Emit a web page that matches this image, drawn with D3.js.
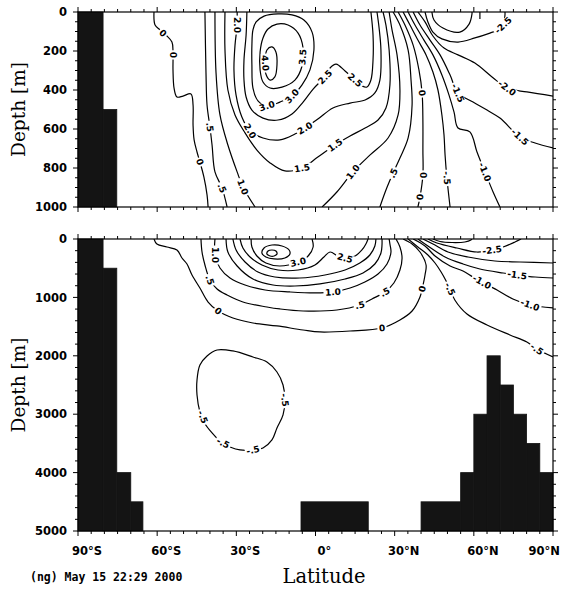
<!DOCTYPE html>
<html>
<head>
<meta charset="utf-8">
<script src="https://cdn.jsdelivr.net/npm/d3@7"></script>
<style>
  body { margin: 0; background: #fff; }
  svg { display: block; }
</style>
</head>
<body>
<div id="chart"></div>
<script>
// axis ticks
const latTicks = [-90, -60, -30, 0, 30, 60, 90];
const latTickLabels = ["90°S", "60°S", "30°S", "0°", "30°N", "60°N", "90°N"];
const topDepthTicks = [0, 200, 400, 600, 800, 1000];
const bottomDepthTicks = [0, 1000, 2000, 3000, 4000, 5000];

// land / sea floor: [lat from, lat to, depth of the top of the block]
const landCells = [
    [-90, -80.5, 0], [-80.5, -75.3, 500], [-75.3, -70, 4000], [-70, -65.4, 4500],
    [-5.5, 20, 4500],
    [40, 55, 4500], [55, 60, 4000], [60, 65, 3000], [65, 70, 2000],
    [70, 75, 2500], [75, 80, 3000], [80, 85, 3500], [85, 90, 4000]
];

// contour lines of the upper 1000 m, points are [lat, depth]
const topContours = [
    { value: "0", points: [[-61.2,0],[-60.8,67],[-58.9,92],[-56.7,118],[-54.4,154],[-54,205],[-54,297],[-53.6,390],[-52.5,436],[-50.2,431],[-47.2,420],[-46.4,477],[-46.4,580],[-46,656],[-44.9,718],[-43.8,769],[-42.3,846],[-41.1,938],[-40.7,1000]],
      labels: [[-57.8,108],[-54,220],[-43.8,769]] },
    { value: ".5", points: [[-41.9,0],[-41.5,310],[-41.1,477],[-40,590],[-39.2,682],[-38.1,820],[-35.4,903],[-33.5,1000]],
      labels: [[-40,590],[-35.4,903]] },
    { value: "1.0", points: [[-38.1,0],[-37.7,310],[-36.2,528],[-33.2,682],[-29.7,820],[-27.5,897],[-22.9,1000]],
      labels: [[-27.5,897]] },
    { value: "1.5", points: [[-34.3,0],[-34.3,195],[-33.2,400],[-30.5,528],[-26.7,620],[-22.2,708],[-17.2,774],[-11.6,815],[-5.1,800],[0.9,744],[7.4,682],[13.1,636],[18.8,595],[23.7,554],[26.7,492],[28.2,374],[27.9,195],[26.7,67],[25.6,0]],
      labels: [[-5.1,800],[7.4,682]] },
    { value: "2.0", points: [[-29.7,0],[-29.7,67],[-30.5,170],[-30.9,297],[-30.1,426],[-27.9,538],[-24.8,610],[-19.9,646],[-13.5,656],[-7.8,626],[-4,595],[0.9,549],[6.6,492],[13.1,467],[18.8,451],[22.5,415],[24.4,349],[24.8,195],[24.1,82],[23.3,0]],
      labels: [[-29.7,67],[-24.8,610],[-4,595]] },
    { value: "2.5", points: [[-26,0],[-26.3,118],[-27.1,246],[-27.1,349],[-26.3,436],[-24.1,503],[-19.9,544],[-14.2,554],[-8.9,523],[-4.7,462],[-0.9,395],[1.7,359],[3.6,333],[5.5,287],[7.8,267],[11.2,303],[15,349],[17.6,379],[19.5,385],[21,349],[21.8,246],[21.8,118],[21,0]],
      labels: [[3.6,333],[15,349]] },
    { value: "3.0", closed: true, points: [[-22.5,51],[-19.5,21],[-14.2,10],[-8.9,15],[-4.4,41],[-1.3,103],[-0.6,195],[-2.1,297],[-5.1,374],[-8.9,431],[-13.5,462],[-18.4,482],[-21.8,456],[-23.7,390],[-24.1,272],[-24.1,169],[-23.7,92]],
      labels: [[-18.4,482],[-8.9,431]] },
    { value: "3.5", closed: true, points: [[-19.9,133],[-18,87],[-14.6,62],[-10.4,67],[-6.6,108],[-4.7,185],[-5.1,277],[-7.8,349],[-12.7,385],[-17.2,390],[-19.9,359],[-21,297],[-21,205]],
      labels: [[-4.9,231]] },
    { value: "4.0", closed: true, points: [[-18.4,195],[-16.5,179],[-15,205],[-14.6,272],[-15.4,333],[-17.2,349],[-18.8,318],[-19.1,256]],
      labels: [[-19,262]] },
    { value: "1.0", points: [[2.5,1000],[8.1,923],[14.2,820],[20.7,733],[27.5,646],[31.3,528],[32,400],[30.9,220],[29,92],[27.9,0]],
      labels: [[14.2,820]] },
    { value: ".5", points: [[29.4,0],[32,67],[35.1,195],[36.2,349],[36.6,477],[35.1,646],[32,749],[29.4,826],[26.7,913],[24.4,1000]],
      labels: [[29.4,826]] },
    { value: "0", points: [[31.3,0],[33.9,67],[37,170],[39.2,297],[40.4,415],[40.7,564],[40.7,708],[40.7,836],[39.6,949],[38.8,1000]],
      labels: [[40.4,415],[40.7,836],[39.6,949]] },
    { value: "-.5", points: [[33.2,0],[35.8,67],[38.8,144],[41.9,220],[44.5,308],[46.4,400],[47.9,528],[48.7,631],[49.1,733],[49.8,851],[51,1000]],
      labels: [[49.8,851]] },
    { value: "-1.0", points: [[35.1,0],[37.7,67],[41.1,144],[44.5,220],[47.9,323],[50.6,426],[52.5,513],[54,595],[58.5,615],[61.2,718],[64.2,820],[67.3,923],[69.9,1000]],
      labels: [[64.2,820]] },
    { value: "-1.5", points: [[37,0],[39.6,67],[43.4,144],[47.2,220],[51,323],[54,415],[59.7,462],[65,503],[69.9,544],[77.5,641],[83.2,672],[90,697]],
      labels: [[54,415],[77.5,641]] },
    { value: "-2.0", points: [[38.8,0],[41.5,51],[44.5,123],[48.7,185],[54,220],[60.4,262],[66.9,333],[72.6,390],[80.1,410],[90,431]],
      labels: [[72.6,390]] },
    { value: "-2.5", points: [[41.5,0],[42.6,51],[44.5,103],[47.9,138],[54,154],[60.4,133],[66.1,108],[69.2,92],[71.1,67],[71.8,15],[71.8,0]],
      labels: [[71.1,67]] },
    { value: "-3.0", points: [[44.1,0],[44.9,41],[48.3,82],[54.7,103],[58.2,62],[59.3,10],[59.3,0]] },
    { value: "-3.0", points: [[62.3,0],[62.3,36]] }
];

// contour lines of the full depth section
const bottomContours = [
    { value: "0", points: [[-61.2,0],[-60.1,86],[-56.3,137],[-52.5,188],[-50.6,325],[-48.7,428],[-46.8,616],[-43.8,839],[-40.7,1079],[-36.9,1233],[-31.3,1352],[-23.7,1438],[-14.6,1489],[-4.7,1558],[1.7,1592],[13.1,1575],[25.2,1524],[32,1387],[36.6,1233],[39.6,993],[40.4,856],[41.5,616],[41.9,445],[39.6,223],[36.6,86],[33.2,0]],
      labels: [[-36.9,1233],[25.2,1524],[40.4,856]] },
    { value: ".5", points: [[-43.4,0],[-43,223],[-41.9,445],[-40,702],[-37.3,856],[-33.5,959],[-27.5,1079],[-18.4,1164],[-13.5,1198],[-4.7,1233],[8.1,1216],[16.8,1130],[21.4,1027],[26.3,907],[29.7,753],[32,531],[32.8,325],[32,137],[30.5,0]],
      labels: [[-40,702],[16.8,1130],[26.3,907]] },
    { value: "1.0", points: [[-38.1,0],[-38.1,274],[-36.2,496],[-32.4,668],[-26.7,788],[-19.1,873],[-9.7,907],[-0.2,924],[6.6,907],[13.1,839],[18.7,736],[23.7,599],[27.1,428],[28.6,223],[28.2,86],[27.9,0]],
      labels: [[-38.1,274],[6.6,907]] },
    { value: "1.5", points: [[-33.9,0],[-33.2,223],[-29.7,462],[-23.7,685],[-16.1,788],[-7.8,805],[1.7,770],[11.2,685],[18,582],[22.5,428],[24.8,240],[25.2,103],[25.2,0]] },
    { value: "2.0", points: [[-31.3,0],[-30.1,188],[-26.7,394],[-21.8,565],[-15.4,651],[-5.9,668],[3.6,616],[11.2,531],[16.8,411],[20.6,274],[22.5,120],[22.9,0]] },
    { value: "2.5", points: [[-28.6,0],[-27.5,154],[-24.8,308],[-20.3,445],[-14.2,531],[-6.6,531],[-0.2,445],[3.2,308],[5.5,223],[8.5,291],[11.2,325],[15,291],[17.6,188],[19.1,86],[19.9,0]],
      labels: [[11.2,325]] },
    { value: "3.0", points: [[-24.4,0],[-24.1,137],[-22.2,291],[-18.8,411],[-13.5,462],[-6.6,394],[-2.8,291],[-0.9,137],[-1.3,0]],
      labels: [[-6.6,394]] },
    { value: "3.5", closed: true, points: [[-19.5,154],[-16.5,103],[-12.7,120],[-10,188],[-9.7,257],[-11.6,325],[-15.7,342],[-18.8,308],[-20.3,240]] },
    { value: "4.0", closed: true, points: [[-18,205],[-16.5,188],[-15,205],[-14.6,257],[-15.7,291],[-17.2,291],[-18.4,257]] },
    { value: "-.5", closed: true, points: [[-43.8,2157],[-41.1,2003],[-37.3,1900],[-31.3,1917],[-23.7,2020],[-18.4,2106],[-14.6,2277],[-12.3,2500],[-11.6,2756],[-12.3,3013],[-14.6,3236],[-16.5,3441],[-19.9,3578],[-23.7,3612],[-28.6,3612],[-32.4,3561],[-35.4,3492],[-39.2,3321],[-42.3,3133],[-43.8,2962],[-44.9,2671],[-44.9,2414]],
      labels: [[-42.7,3047],[-35,3492],[-23.7,3612],[-11.6,2756]] },
    { value: "-.5", points: [[35.1,0],[38.8,137],[42.6,274],[45.3,411],[47.6,565],[49.5,719],[51,856],[52.8,1044],[57.4,1284],[65,1472],[73.7,1643],[80.1,1763],[83.9,1883],[90,2020]],
      labels: [[51,856],[83.9,1883]] },
    { value: "-1.0", points: [[37,0],[41.5,120],[45.3,291],[51,462],[55.9,548],[59.7,651],[63.1,736],[68.8,873],[74.8,1027],[81.3,1130],[90,1181]],
      labels: [[63.1,736],[81.3,1130]] },
    { value: "-1.5", points: [[38.8,0],[42.6,120],[49.1,308],[55.9,428],[62.3,514],[71.1,582],[76.4,616],[83.2,651],[90,668]],
      labels: [[76.4,616]] },
    { value: "-2.0", points: [[40.7,0],[44.5,86],[50.2,223],[57.8,308],[68,377],[77.5,394],[90,411]] },
    { value: "-2.5", points: [[42.6,0],[46,68],[53.6,154],[61.2,223],[66.9,188],[71.1,137],[75.6,51],[77.9,0]],
      labels: [[66.9,188]] },
    { value: "-3.0", points: [[44.5,0],[47.2,43],[51.8,60],[56.6,51],[58.9,17],[59.3,0]] }
];

const width = 561, height = 590;
const svg = d3.select("#chart").append("svg")
    .attr("width", width)
    .attr("height", height);

const x = d3.scaleLinear().domain([-90, 90]).range([78, 553]);

const panels = [
    { contours: topContours, y: d3.scaleLinear().domain([0, 1000]).range([12, 207]), ticks: topDepthTicks, minor: 50 },
    { contours: bottomContours, y: d3.scaleLinear().domain([0, 5000]).range([239, 531]), ticks: bottomDepthTicks, minor: 200, xLabels: true }
];

function segDist(p, a, b) {
    const dx = b[0] - a[0], dy = b[1] - a[1];
    const len2 = dx * dx + dy * dy || 1;
    let t = ((p[0] - a[0]) * dx + (p[1] - a[1]) * dy) / len2;
    t = Math.max(0, Math.min(1, t));
    const qx = a[0] + t * dx - p[0], qy = a[1] + t * dy - p[1];
    return Math.sqrt(qx * qx + qy * qy);
}

// rotate the label along the nearest piece of its line
function labelAngle(pts, p, closed) {
    const segs = [];
    for (let i = 0; i < pts.length - 1; i++) segs.push([pts[i], pts[i + 1]]);
    if (closed) segs.push([pts[pts.length - 1], pts[0]]);
    let best = segs[0], bestD = Infinity;
    segs.forEach(s => {
        const d = segDist(p, s[0], s[1]);
        if (d < bestD) { bestD = d; best = s; }
    });
    let ang = Math.atan2(best[1][1] - best[0][1], best[1][0] - best[0][0]) * 180 / Math.PI;
    if (ang > 90) ang -= 180;
    if (ang <= -90) ang += 180;
    return ang;
}

function drawPanel(p, i) {
    const y = p.y;
    const maxD = y.domain()[1];
    const g = svg.append("g");

    svg.append("clipPath").attr("id", "clip" + i)
        .append("rect")
        .attr("x", x(-90)).attr("y", y(0))
        .attr("width", x(90) - x(-90)).attr("height", y(maxD) - y(0));

    const cg = g.append("g").attr("clip-path", `url(#clip${i})`);

    const lineOpen = d3.line().curve(d3.curveCatmullRom.alpha(0.5));
    const lineClosed = d3.line().curve(d3.curveCatmullRomClosed.alpha(0.5));

    // lines first, labels on top
    p.contours.forEach(c => {
        const pts = c.points.map(d => [x(d[0]), y(d[1])]);
        cg.append("path")
            .attr("d", (c.closed ? lineClosed : lineOpen)(pts))
            .attr("fill", "none")
            .attr("stroke", "#000")
            .attr("stroke-width", 1.2);
    });

    p.contours.forEach(c => {
        if (!c.labels) return;
        const pts = c.points.map(d => [x(d[0]), y(d[1])]);
        c.labels.forEach(l => {
            const lp = [x(l[0]), y(l[1])];
            const ang = labelAngle(pts, lp, c.closed);
            const lg = cg.append("g")
                .attr("transform", `translate(${lp[0]},${lp[1]}) rotate(${ang})`);
            const rect = lg.append("rect").attr("fill", "#fff");
            const t = lg.append("text")
                .attr("text-anchor", "middle")
                .attr("dy", "0.36em")
                .attr("font-family", "DejaVu Sans")
                .attr("font-weight", "bold")
                .attr("font-size", "9px")
                .attr("fill", "#000")
                .text(c.value);
            const w = t.node().getComputedTextLength();
            rect.attr("x", -w / 2 - 1.5).attr("y", -4).attr("width", w + 3).attr("height", 8);
        });
    });

    // sea floor
    g.selectAll(".land")
        .data(landCells.filter(d => d[2] < maxD))
        .enter()
        .append("rect")
        .attr("class", "land")
        .attr("x", d => x(d[0]))
        .attr("width", d => x(d[1]) - x(d[0]))
        .attr("y", d => y(d[2]))
        .attr("height", d => y(maxD) - y(d[2]))
        .attr("fill", "#141414")
        .attr("stroke", "#141414")
        .attr("stroke-width", 0.8);

    // frame
    g.append("rect")
        .attr("x", x(-90)).attr("y", y(0))
        .attr("width", x(90) - x(-90)).attr("height", y(maxD) - y(0))
        .attr("fill", "none").attr("stroke", "#000").attr("stroke-width", 1.2);

    // latitude ticks on top and bottom
    d3.range(-90, 91, 5).forEach(lat => {
        const len = lat % 30 === 0 ? 5 : 3;
        g.append("line").attr("x1", x(lat)).attr("x2", x(lat))
            .attr("y1", y(maxD)).attr("y2", y(maxD) + len)
            .attr("stroke", "#000");
        g.append("line").attr("x1", x(lat)).attr("x2", x(lat))
            .attr("y1", y(0)).attr("y2", y(0) - len)
            .attr("stroke", "#000");
    });

    // depth ticks on both sides
    d3.range(0, maxD + 1, p.minor).forEach(dep => {
        const len = p.ticks.includes(dep) ? 5 : 3;
        g.append("line").attr("x1", x(-90)).attr("x2", x(-90) - len)
            .attr("y1", y(dep)).attr("y2", y(dep)).attr("stroke", "#000");
        g.append("line").attr("x1", x(90)).attr("x2", x(90) + len)
            .attr("y1", y(dep)).attr("y2", y(dep)).attr("stroke", "#000");
    });

    g.selectAll(".ylab")
        .data(p.ticks)
        .enter()
        .append("text")
        .attr("x", 67)
        .attr("y", d => y(d))
        .attr("dy", "0.36em")
        .attr("text-anchor", "end")
        .attr("font-family", "DejaVu Sans")
        .attr("font-weight", "bold")
        .attr("font-size", "11.5px")
        .text(d => d);

    g.append("text")
        .attr("transform", `translate(25,${(y(0) + y(maxD)) / 2}) rotate(-90)`)
        .attr("text-anchor", "middle")
        .attr("font-family", "DejaVu Serif")
        .attr("font-size", "18.5px")
        .text("Depth [m]");

    if (p.xLabels) {
        g.selectAll(".xlab")
            .data(latTicks)
            .enter()
            .append("text")
            .attr("x", (d, k) => k === latTicks.length - 1 ? 560 : x(d) + 9)
            .attr("y", y(maxD) + 24)
            .attr("text-anchor", (d, k) => k === latTicks.length - 1 ? "end" : "middle")
            .attr("font-family", "DejaVu Sans")
            .attr("font-weight", "bold")
            .attr("font-size", "11.5px")
            .text((d, k) => latTickLabels[k]);
    }
}

panels.forEach(drawPanel);

svg.append("text")
    .attr("x", 324)
    .attr("y", 583)
    .attr("text-anchor", "middle")
    .attr("font-family", "DejaVu Serif")
    .attr("font-size", "19.5px")
    .text("Latitude");

svg.append("text")
    .attr("x", 30)
    .attr("y", 581)
    .attr("font-family", "DejaVu Sans Mono")
    .attr("font-weight", "bold")
    .attr("font-size", "11.5px")
    .text("(ng) May 15 22:29 2000");
</script>
</body>
</html>
